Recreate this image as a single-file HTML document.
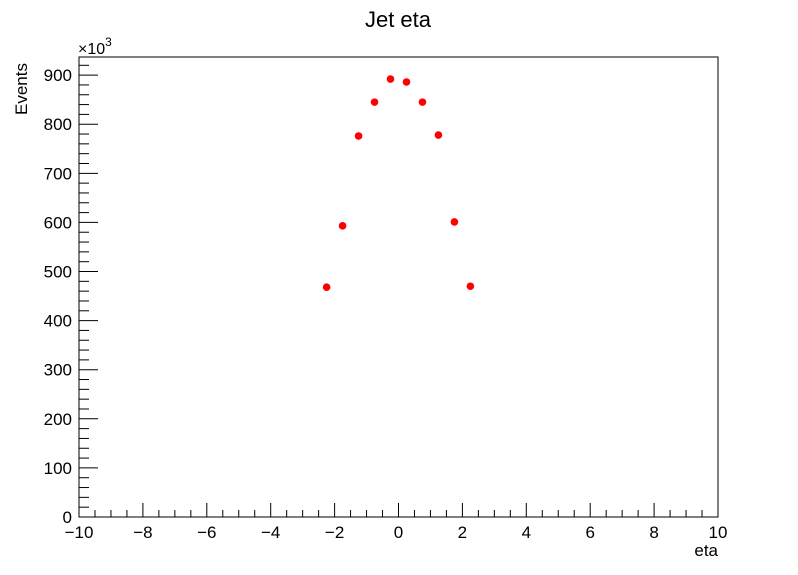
<!DOCTYPE html>
<html><head><meta charset="utf-8"><style>
html,body{margin:0;padding:0;background:#fff;}
svg{display:block;font-family:"Liberation Sans",Arial,sans-serif;}
</style></head><body>
<svg id="chart" width="798" height="575" viewBox="0 0 798 575" xmlns="http://www.w3.org/2000/svg">
<rect x="0" y="0" width="798" height="575" fill="#fff"/>
<text x="398" y="27" text-anchor="middle" font-size="22">Jet eta</text>
<rect x="79" y="57" width="639" height="460" fill="none" stroke="#000" stroke-width="1"/>
<g id="xticks"></g>
<g id="yticks"></g>
<text x="78" y="54" font-size="16">×10<tspan dy="-8" font-size="12">3</tspan></text>
<text transform="translate(27,115) rotate(-90)" text-anchor="start" font-size="17">Events</text>
<text x="718" y="556" text-anchor="end" font-size="17">eta</text>
<g id="points"></g>
</svg>
<script>
const etaBins = [-2.25,-1.75,-1.25,-0.75,-0.25,0.25,0.75,1.25,1.75,2.25];
const eventsK = [468,593,776,845,892,886,845,778,601,470];
const xTickLabels = ["\u221210","\u22128","\u22126","\u22124","\u22122","0","2","4","6","8","10"];
const yTickLabels = ["0","100","200","300","400","500","600","700","800","900"];

const X0=79,X1=718,Y0=517,Y1=57;
const xMin=-10,xMax=10,yMin=0,yMax=936.9;
function sx(v){return X0+(v-xMin)/(xMax-xMin)*(X1-X0);}
function sy(v){return Y0-(v-yMin)/(yMax-yMin)*(Y0-Y1);}
const NS="http://www.w3.org/2000/svg";
function mk(tag,attrs,parent){const e=document.createElementNS(NS,tag);for(const k in attrs)e.setAttribute(k,attrs[k]);parent.appendChild(e);return e;}

const gx=document.getElementById('xticks');
for(let i=0;i<=40;i++){
  const v=xMin+i*0.5;const x=sx(v);const major=(i%4===0);
  const l=mk('line',{x1:x,x2:x,y1:Y0,y2:Y0-(major?14:7),stroke:'#000','stroke-width':1},gx);
  
  
}
xTickLabels.forEach((t,i)=>{
  const tx=mk('text',{x:sx(xMin+i*2),y:538,'text-anchor':'middle','font-size':17},gx);
  tx.textContent=t;
  
  
});
const gy=document.getElementById('yticks');
for(let v=0;v<=yMax;v+=20){
  const y=sy(v);const major=(v%100===0);
  const l=mk('line',{x1:X0,x2:X0+(major?19:10),y1:y,y2:y,stroke:'#000','stroke-width':1},gy);
  
  
}
yTickLabels.forEach((t,i)=>{
  const tx=mk('text',{x:72,y:sy(i*100)+6,'text-anchor':'end','font-size':17},gy);
  tx.textContent=t;
  
  
});
const gp=document.getElementById('points');
etaBins.forEach((b,i)=>{
  const c=mk('circle',{cx:sx(b),cy:sy(eventsK[i]),r:3.8,fill:'#ff0000'},gp);
  
  
});
</script>
</body></html>
